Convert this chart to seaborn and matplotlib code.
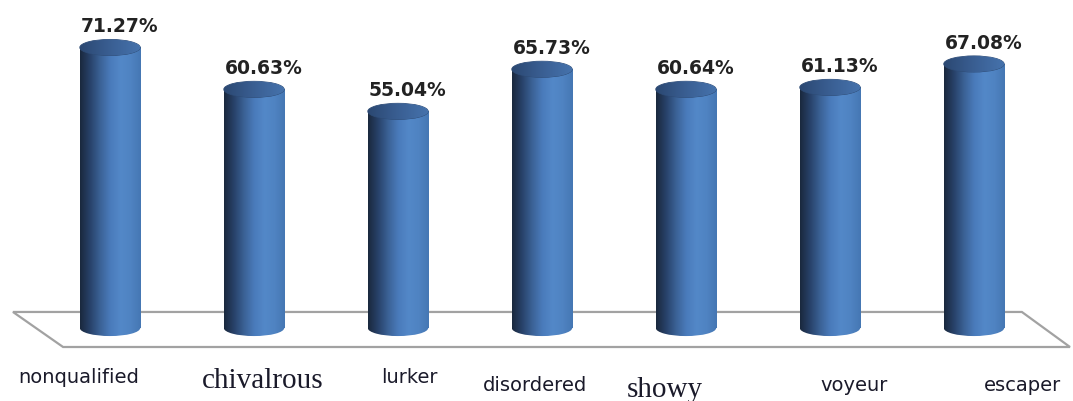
import numpy as np
import pandas as pd
import matplotlib
matplotlib.use("Agg")
import matplotlib.pyplot as plt
import seaborn as sns
from matplotlib.colors import LinearSegmentedColormap
from matplotlib.patches import Ellipse, Polygon

# data
categories = ["nonqualified", "chivalrous", "lurker", "disordered", "showy", "voyeur", "escaper"]
values = [71.27, 60.63, 55.04, 65.73, 60.64, 61.13, 67.08]
value_labels = ["71.27%", "60.63%", "55.04%", "65.73%", "60.64%", "61.13%", "67.08%"]

# label styling (the original mixes fonts and nudges labels around)
label_serif = [False, True, False, False, True, False, False]
label_dx = [-0.22, 0.06, 0.08, -0.045, -0.15, 0.17, 0.34]
label_y = [-13.9, -15.2, -13.9, -16.0, -17.5, -16.0, -16.0]

sns.set_style("white")

side_cmap = LinearSegmentedColormap.from_list(
    "side", ["#1a283d", "#28426a", "#3b6296", "#4a7bbb", "#5388c8", "#4f83c2", "#4577b3"])
top_cmap = LinearSegmentedColormap.from_list("top", ["#2b4872", "#3a5f93", "#4673ad"])


def main():
    df = pd.DataFrame({"category": categories, "value": values})

    fig = plt.figure(figsize=(10.73, 4.01), dpi=100)
    ax = fig.add_axes([0, 0, 1, 1])
    bw = 0.42
    sns.barplot(data=df, x="category", y="value", color="#4a7bbb", width=bw, ax=ax,
                saturation=1, zorder=3)

    n = len(categories)
    ax.set_xlim(-0.764, 6.688)
    ax.set_ylim(-18.55, 83.33)
    ax.set_axis_off()

    # floor of the 3d chart
    floor = Polygon([(-0.674, 4.07), (n - 1 + 0.333, 4.07), (n - 1 + 0.667, -4.83), (-0.326, -4.83)],
                    closed=True, facecolor="white", edgecolor="#a2a2a2", lw=1.6, zorder=1)
    ax.add_patch(floor)

    grad = np.linspace(0, 1, 256).reshape(1, -1)
    eh = 4.1  # ellipse height in data units
    for i, p in enumerate(list(ax.patches)):
        if p is floor:
            continue
        x0 = p.get_x()
        w = p.get_width()
        h = p.get_height()
        cx = x0 + w / 2
        p.set_facecolor("none")
        p.set_edgecolor("none")
        body = ax.imshow(grad, cmap=side_cmap, extent=(x0, x0 + w, 0, h), aspect="auto", zorder=3)
        body.set_clip_path(p)
        bottom = Ellipse((cx, 0), w, eh, facecolor="none", edgecolor="none")
        ax.add_patch(bottom)
        bimg = ax.imshow(grad, cmap=side_cmap, extent=(x0, x0 + w, -eh, eh), aspect="auto", zorder=3)
        bimg.set_clip_path(bottom)
        top = Ellipse((cx, h), w, eh, facecolor="none", edgecolor="#2d4a73", lw=0.6, zorder=4)
        ax.add_patch(top)
        timg = ax.imshow(grad, cmap=top_cmap, extent=(x0, x0 + w, h - eh, h + eh), aspect="auto", zorder=4)
        timg.set_clip_path(top)

    for i, v in enumerate(values):
        ax.text(i + 0.066, v + 3.9, value_labels[i], ha="center", va="baseline",
                fontsize=13.5, fontweight="bold", color="#222222", family="DejaVu Sans")

    for i, lab in enumerate(categories):
        if label_serif[i]:
            ax.text(i + label_dx[i], label_y[i], lab, ha="center", va="baseline",
                    fontsize=21, color="#1a1a2a", family="Liberation Serif")
        else:
            ax.text(i + label_dx[i], label_y[i], lab, ha="center", va="baseline",
                    fontsize=14, color="#1a1a2a", family="DejaVu Sans")

    ax.set_xlim(-0.764, 6.688)
    ax.set_ylim(-18.55, 83.33)
    fig.savefig("out.png", dpi=100)


if __name__ == "__main__":
    main()
